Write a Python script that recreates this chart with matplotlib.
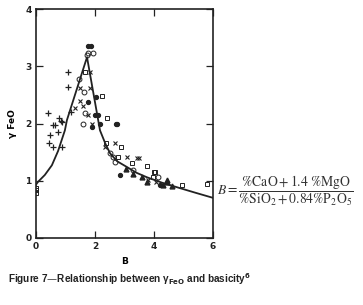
import matplotlib
matplotlib.use('Agg')
from matplotlib import pyplot as plt

# fitted curve
curve_b = [0.0, 0.07, 0.3, 0.54, 0.75, 0.98, 1.05, 1.73, 2.17, 2.35, 2.51, 2.75, 3.08, 3.4, 3.76, 4.3, 4.88, 5.4, 6.0]
curve_g = [0.93, 0.98, 1.1, 1.27, 1.52, 1.88, 2.06, 3.16, 1.88, 1.65, 1.48, 1.34, 1.24, 1.14, 1.06, 0.96, 0.87, 0.79, 0.70]

plus_b = [1.08, 1.08, 0.4, 0.78, 0.84, 0.64, 0.58, 0.87, 0.47, 0.75, 0.45, 0.58, 0.87, 1.2]
plus_g = [2.9, 2.63, 2.18, 2.09, 2.05, 1.97, 1.97, 2.03, 1.8, 1.85, 1.66, 1.59, 1.59, 2.2]

cross_b = [1.83, 1.49, 1.83, 1.5, 1.6, 1.32, 1.76, 2.68, 2.34, 3.08, 3.42, 3.5, 3.8, 4.07, 1.9]
cross_g = [2.9, 2.62, 2.62, 2.4, 2.3, 2.27, 2.15, 1.66, 1.59, 1.41, 1.4, 1.4, 1.01, 0.98, 2.0]

circ_b = [1.76, 1.93, 1.46, 1.63, 1.66, 1.6, 2.51, 2.61, 2.68, 3.28, 4.14, 1.72]
circ_g = [3.24, 3.23, 2.77, 2.55, 2.18, 1.99, 1.48, 1.41, 1.33, 1.19, 1.06, 3.2]

sq_b = [1.66, 2.24, 2.4, 2.37, 2.88, 2.78, 3.25, 3.76, 4.0, 4.03, 3.97, 4.95, 5.8, 0.0, 0.0, 0.0]
sq_g = [2.9, 2.48, 2.09, 1.66, 1.59, 1.41, 1.31, 1.26, 1.15, 1.15, 1.06, 0.93, 0.94, 0.78, 0.83, 0.88]

dot_b = [1.75, 1.85, 2.03, 1.76, 2.0, 2.1, 2.71, 1.9, 2.17, 2.85, 4.2, 2.75]
dot_g = [3.35, 3.35, 2.46, 2.37, 2.15, 2.15, 1.99, 1.94, 2.0, 1.1, 0.92, 1.99]

tri_b = [3.05, 3.28, 3.59, 3.76, 4.44, 4.31, 4.44, 4.6]
tri_g = [1.2, 1.12, 1.06, 0.98, 0.98, 0.92, 1.01, 0.9]

fig = plt.figure(figsize=(3.63, 3.05), dpi=100)
ax = fig.add_axes([0.099, 0.22, 0.488, 0.75])

ax.plot(curve_b, curve_g, color='#222222', lw=1.3)
ax.plot(plus_b, plus_g, '+', color='#222222', ms=5, mew=0.9)
ax.plot(cross_b, cross_g, 'x', color='#222222', ms=3.5, mew=0.8)
ax.plot(circ_b, circ_g, 'o', mfc='none', mec='#222222', ms=3.5, mew=0.7)
ax.plot(sq_b, sq_g, 's', mfc='none', mec='#222222', ms=3.2, mew=0.7)
ax.plot(dot_b, dot_g, 'o', color='#222222', ms=2.8)
ax.plot(tri_b, tri_g, '^', color='#222222', ms=3.5)

ax.set_xlim(0, 6)
ax.set_ylim(0, 4)
ax.set_xticks([0, 2, 4, 6])
ax.set_yticks([0, 1, 2, 3, 4])
ax.tick_params(direction='in', length=5, width=0.9, labelsize=6.5, pad=3,
               top=True, right=True, colors='#222222')
for lab in ax.get_xticklabels() + ax.get_yticklabels():
    lab.set_fontweight('bold')
for s in ax.spines.values():
    s.set_linewidth(1.2)
    s.set_color('#222222')
ax.set_xlabel('B', fontsize=6.5, fontweight='bold', labelpad=4)
ax.set_ylabel('γ FeO', fontsize=6.5, fontweight='bold', labelpad=6)

fig.text(0.598, 0.378, r'$B=\dfrac{\%\mathrm{CaO}+1.4\ \%\mathrm{MgO}}{\%\mathrm{SiO}_2+0.84\%\mathrm{P}_2\mathrm{O}_5}$',
         math_fontfamily='stix', fontsize=9.8, va='center', ha='left', color='#333333')

fig.text(0.022, 0.072, r'Figure 7—Relationship between γ$_{\mathbf{FeO}}$ and basicity$^{\mathbf{6}}$',
         family='Liberation Sans', fontweight='bold', fontsize=7.2, color='#222222')

plt.savefig('out.png', dpi=100)
plt.close()
